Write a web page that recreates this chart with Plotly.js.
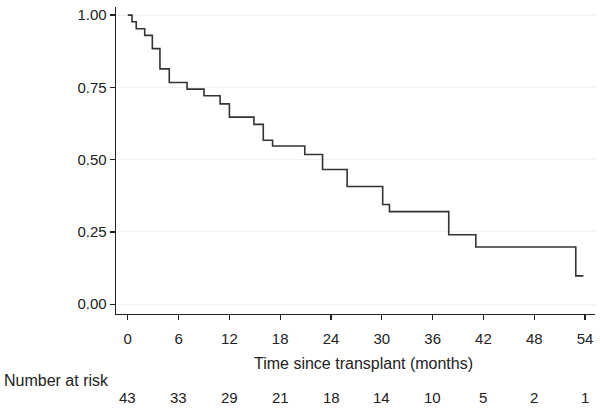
<!DOCTYPE html>
<html>
<head>
<meta charset="utf-8">
<script src="https://cdn.plot.ly/plotly-3.0.1.min.js"></script>
<style>html,body{margin:0;padding:0;background:#fff;}#chart{width:600px;height:410px;}</style>
</head>
<body>
<div id="chart"></div>
<script>
// Kaplan-Meier step data (months, survival probability)
const stepTimes = [0, 0.5, 1.0, 2.0, 2.9, 3.8, 4.9, 7.0, 9.0, 10.9, 12.0, 14.9, 16.0, 17.1, 20.9, 23.0, 25.9, 30.1, 30.9, 37.9, 41.1, 52.9, 53.8];
const survival  = [1.000, 0.977, 0.953, 0.930, 0.884, 0.814, 0.767, 0.744, 0.721, 0.693, 0.647, 0.622, 0.567, 0.547, 0.518, 0.466, 0.407, 0.345, 0.320, 0.240, 0.198, 0.098, 0.098];
const xTicks = [0, 6, 12, 18, 24, 30, 36, 42, 48, 54];
const yTicks = [0, 0.25, 0.5, 0.75, 1.0];
const yTickLabels = ["0.00", "0.25", "0.50", "0.75", "1.00"];
const numberAtRisk = [43, 33, 29, 21, 18, 14, 10, 5, 2, 1];
const xTitle = "Time since transplant (months)";
const riskLabel = "Number at risk";

const FONT = "Liberation Sans, Arial, Helvetica, sans-serif";
const TXT = "#222";

const trace = {
  x: stepTimes, y: survival, type: "scatter", mode: "lines",
  line: {shape: "hv", color: "#333", width: 1.6},
  hoverinfo: "skip", showlegend: false
};

const annotations = [];
annotations.push({
  xref: "paper", yref: "paper", x: 0.5 + (363 - (116 + 479/2)) / 479, y: -0.16,
  text: xTitle, showarrow: false, xanchor: "center", yanchor: "middle",
  font: {family: FONT, size: 16, color: TXT}
});
annotations.push({
  xref: "paper", yref: "paper", x: -116/479 + 2/479, y: -0.217,
  text: riskLabel, showarrow: false, xanchor: "left", yanchor: "middle",
  font: {family: FONT, size: 16, color: TXT}
});
numberAtRisk.forEach((n, i) => {
  annotations.push({
    xref: "x", yref: "paper", x: xTicks[i], y: -0.273,
    text: String(n), showarrow: false, xanchor: "center", yanchor: "middle",
    font: {family: FONT, size: 15, color: TXT}
  });
});

const layout = {
  width: 600, height: 410,
  margin: {l: 116, r: 5, t: 7, b: 96, pad: 0},
  paper_bgcolor: "#fff", plot_bgcolor: "#fff",
  font: {family: FONT, size: 15, color: TXT},
  xaxis: {
    range: [-1.39, 55.17], tickvals: xTicks, ticktext: xTicks.map(String),
    showgrid: false, zeroline: false, showline: true, linecolor: "#222", linewidth: 1.3,
    ticks: "outside", ticklen: 5, tickwidth: 1.2, tickcolor: "#222",
    tickfont: {family: FONT, size: 15, color: TXT}, ticklabelstandoff: 6
  },
  yaxis: {
    range: [-0.034, 1.028], tickvals: yTicks, ticktext: yTickLabels,
    showgrid: true, gridcolor: "#f0f0f0", gridwidth: 1,
    zeroline: false, showline: true, linecolor: "#222", linewidth: 1.3,
    ticks: "outside", ticklen: 5, tickwidth: 1.2, tickcolor: "#222",
    tickfont: {family: FONT, size: 15, color: TXT}, ticklabelstandoff: 0
  },
  annotations: annotations
};

Plotly.newPlot("chart", [trace], layout, {displayModeBar: false, staticPlot: true});
</script>
</body>
</html>
